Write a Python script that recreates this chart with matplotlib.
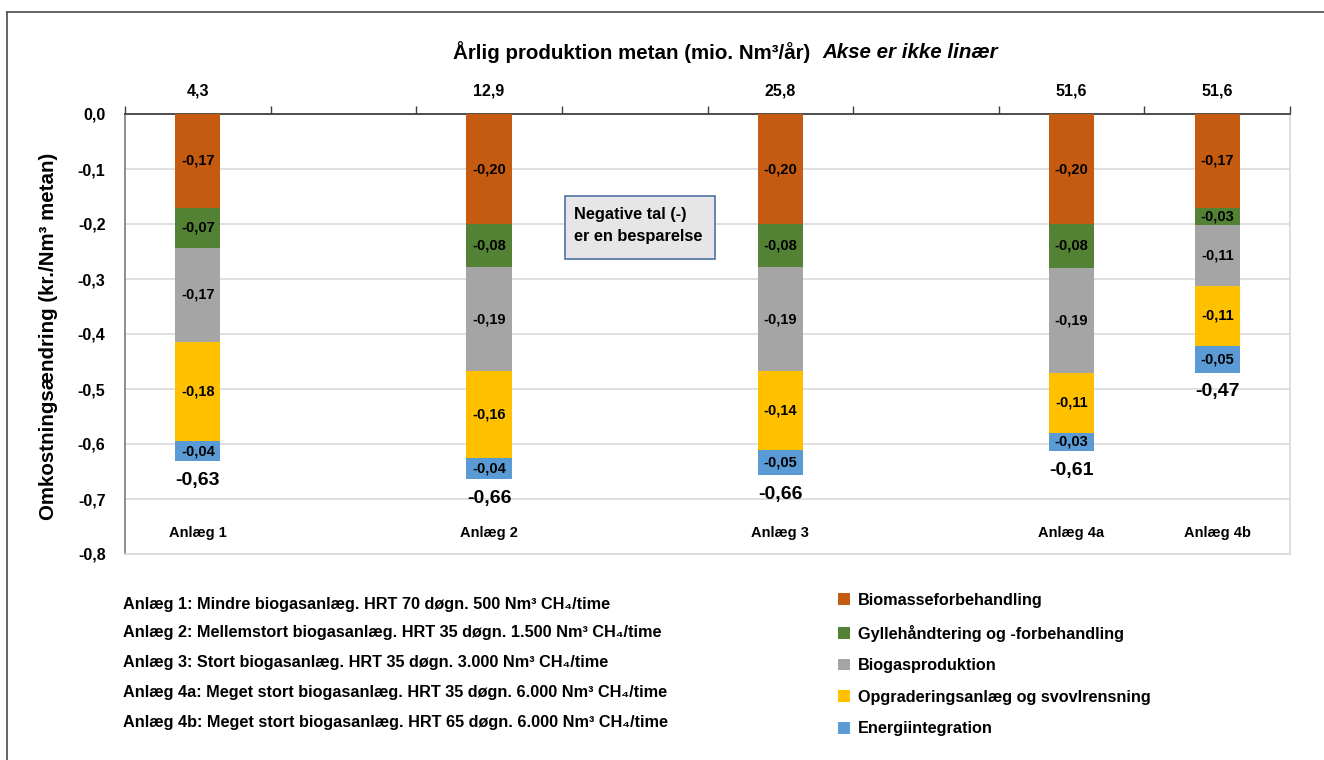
import matplotlib
matplotlib.use('Agg')
import matplotlib.pyplot as plt
from matplotlib.lines import Line2D
from matplotlib.patches import Rectangle
import numpy as np

plt.rcParams['font.family'] = ['Liberation Sans Narrow', 'Liberation Sans', 'DejaVu Sans']
plt.rcParams['font.weight'] = 'bold'

# data
plants = ['Anlæg 1', 'Anlæg 2', 'Anlæg 3', 'Anlæg 4a', 'Anlæg 4b']
production = ['4,3', '12,9', '25,8', '51,6', '51,6']
slots = [0, 2, 4, 6, 7]   # category slots on the (non-linear) axis, 8 slots in total
n_slots = 8

components = ['Biomasseforbehandling', 'Gyllehåndtering og -forbehandling',
              'Biogasproduktion', 'Opgraderingsanlæg og svovlrensning',
              'Energiintegration']
biomasse = [-0.170, -0.200, -0.200, -0.200, -0.170]
gylle = [-0.073, -0.078, -0.078, -0.080, -0.032]
biogas = [-0.171, -0.190, -0.190, -0.190, -0.110]
opgradering = [-0.181, -0.157, -0.143, -0.110, -0.110]
energi = [-0.036, -0.039, -0.046, -0.032, -0.048]
series = [biomasse, gylle, biogas, opgradering, energi]
colors = ['#c55a11', '#548235', '#a5a5a5', '#ffc000', '#5b9bd5']

notes = ['Anlæg 1: Mindre biogasanlæg. HRT 70 døgn. 500 Nm³ CH₄/time',
         'Anlæg 2: Mellemstort biogasanlæg. HRT 35 døgn. 1.500 Nm³ CH₄/time',
         'Anlæg 3: Stort biogasanlæg. HRT 35 døgn. 3.000 Nm³ CH₄/time',
         'Anlæg 4a: Meget stort biogasanlæg. HRT 35 døgn. 6.000 Nm³ CH₄/time',
         'Anlæg 4b: Meget stort biogasanlæg. HRT 65 døgn. 6.000 Nm³ CH₄/time']
note_y = [605, 632, 662, 692, 722]


def fmt(v, d=2):
    return f'{v:.{d}f}'.replace('.', ',')


W, H = 1324, 760
fig = plt.figure(figsize=(W / 100, H / 100), dpi=100)
ax = fig.add_axes([125 / W, 1 - 554 / H, (1290 - 125) / W, 440 / H])

x = np.array(slots) + 0.5
bottom = np.zeros(len(plants))
handles = []
for vals, col in zip(series, colors):
    vals = np.array(vals)
    b = ax.bar(x, vals, bottom=bottom, width=0.31, color=col, zorder=3)
    handles.append(b)
    for xi, bi, v in zip(x, bottom, vals):
        ax.text(xi, bi + v / 2, fmt(v), ha='center', va='center', fontsize=10.5, zorder=4)
    bottom = bottom + vals

for xi, tot in zip(x, bottom):
    ax.annotate(fmt(tot), xy=(xi, tot), xytext=(0, -14), textcoords='offset points',
                ha='center', va='center', fontsize=14)

for xi, name in zip(x, plants):
    ax.text(xi, -0.762, name, ha='center', va='center', fontsize=10.5)

ax.set_xlim(0, n_slots)
ax.set_ylim(-0.8, 0)
ax.xaxis.tick_top()
ax.set_xticks(x)
ax.set_xticklabels(production)
ax.set_xticks(np.arange(n_slots + 1), minor=True)
ax.tick_params(axis='x', which='major', length=0, pad=11, labelsize=11.5)
ax.tick_params(axis='x', which='minor', top=True, bottom=False, length=6,
               width=1, color='#404040')

yt = np.round(np.arange(0, -0.81, -0.1), 1)
ax.set_yticks(yt)
ax.set_yticklabels([fmt(abs(v) if v == 0 else v, 1) for v in yt])
ax.tick_params(axis='y', length=0, pad=14, labelsize=11.5)
ax.yaxis.grid(True, color='#d9d9d9', lw=1.2, zorder=0)
ax.set_axisbelow(True)

ax.spines['top'].set_color('#404040')
ax.spines['top'].set_linewidth(1.3)
ax.spines['left'].set_color('#868686')
ax.spines['left'].set_linewidth(1.3)
for s in ['right', 'bottom']:
    ax.spines[s].set_color('#d9d9d9')
    ax.spines[s].set_linewidth(1.2)

# titles
fig.text(810 / W, 1 - 52 / H, 'Årlig produktion metan (mio. Nm³/år)',
         ha='right', va='center', fontsize=14.8)
fig.text(822 / W, 1 - 52 / H, 'Akse er ikke linær', style='italic',
         ha='left', va='center', fontsize=14.8)
fig.text(48 / W, 1 - 336 / H, 'Omkostningsændring (kr./Nm³ metan)', rotation=90,
         ha='center', va='center', fontsize=14.8)

# note box
fig.add_artist(Rectangle((565 / W, 1 - 259 / H), 150 / W, 63 / H, transform=fig.transFigure,
                         fc='#e7e6e6', ec='#4f71a6', lw=1.2))
fig.text(574 / W, 1 - 214 / H, 'Negative tal (-)', ha='left', va='center', fontsize=11.8)
fig.text(574 / W, 1 - 236 / H, 'er en besparelse', ha='left', va='center', fontsize=11.8)

for line, yy in zip(notes, note_y):
    fig.text(123 / W, 1 - yy / H, line, ha='left', va='center', fontsize=11.7)

fig.legend(handles, components, loc='upper left', bbox_to_anchor=(838 / W, 1 - 593 / H),
           frameon=False, fontsize=11.7, handlelength=0.75, handleheight=0.75,
           handletextpad=0.45, labelspacing=1.02, borderpad=0, borderaxespad=0)

# outer frame
fig.add_artist(Line2D([7 / W, 1], [1 - 12 / H, 1 - 12 / H], transform=fig.transFigure,
                      color='#595959', lw=1.3))
fig.add_artist(Line2D([7 / W, 7 / W], [0, 1 - 12 / H], transform=fig.transFigure,
                      color='#595959', lw=1.3))

fig.savefig('out.png', dpi=100)
